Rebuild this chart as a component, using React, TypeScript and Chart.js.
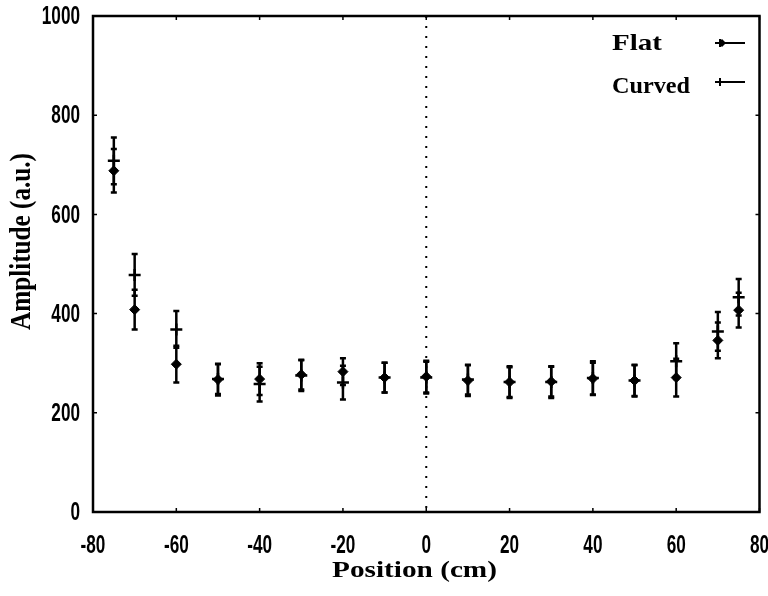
import React, { useEffect, useRef } from "react";
import { Chart, registerables } from "chart.js";

Chart.register(...registerables);

const positions = [-75, -70, -60, -50, -40, -30, -20, -10, 0, 10, 20, 30, 40, 50, 60, 70, 75];
const flatValues = [688, 408, 298, 267, 268, 277, 283, 271, 273, 265, 262, 263, 269, 265, 271, 346, 407];
const flatErrors = [44, 40, 37, 32, 32, 30, 27, 30, 32, 31, 30, 30, 32, 32, 38, 36, 35];
const curvedValues = [708, 478, 368, 268, 258, 275, 261, 271, 271, 267, 262, 262, 270, 265, 304, 364, 433];
const curvedErrors = [47, 42, 37, 30, 35, 31, 34, 30, 32, 30, 32, 32, 34, 31, 36, 39, 37];
const xTicks = [-80, -60, -40, -20, 0, 20, 40, 60, 80];
const yTicks = [0, 200, 400, 600, 800, 1000];
const seriesNames = ["Flat", "Curved"];
const xTitle = "Position (cm)";
const yTitle = "Amplitude (a.u.)";

const TICK_FONT = "'Liberation Sans', Arial, sans-serif";
const SERIF = "'Liberation Serif', 'Times New Roman', serif";

function fitText(ctx: any, text: string, x: number, y: number, width: number) {
  const w = ctx.measureText(text).width;
  ctx.save();
  ctx.translate(x, y);
  ctx.scale(width / w, 1);
  ctx.fillText(text, 0, 0);
  ctx.restore();
}

const errorBarPlugin = {
  id: "errorBars",
  afterDatasetsDraw(chart: any) {
    const ctx = chart.ctx;
    const xs = chart.scales.x;
    const ys = chart.scales.y;
    const errs = [flatErrors, curvedErrors];
    const vals = [flatValues, curvedValues];
    ctx.save();
    ctx.strokeStyle = "#000";
    ctx.lineWidth = 2.5;
    for (let d = 0; d < 2; d++) {
      for (let i = 0; i < positions.length; i++) {
        const px = xs.getPixelForValue(positions[i]);
        const top = ys.getPixelForValue(vals[d][i] + errs[d][i]);
        const bot = ys.getPixelForValue(vals[d][i] - errs[d][i]);
        ctx.beginPath();
        ctx.moveTo(px, top);
        ctx.lineTo(px, bot);
        ctx.moveTo(px - 3, top);
        ctx.lineTo(px + 3, top);
        ctx.moveTo(px - 3, bot);
        ctx.lineTo(px + 3, bot);
        ctx.stroke();
      }
    }
    ctx.restore();
  },
};

const framePlugin = {
  id: "frame",
  beforeDatasetsDraw(chart: any) {
    const ctx = chart.ctx;
    const { left, right, top, bottom } = chart.chartArea;
    const xs = chart.scales.x;
    const ys = chart.scales.y;
    ctx.save();
    ctx.strokeStyle = "#000";
    ctx.lineWidth = 2;
    ctx.setLineDash([2, 8]);
    const x0 = xs.getPixelForValue(0);
    ctx.beginPath();
    ctx.moveTo(x0, top);
    ctx.lineTo(x0, bottom);
    ctx.stroke();
    ctx.setLineDash([]);
    ctx.lineWidth = 2.5;
    ctx.strokeRect(left, top, right - left, bottom - top);
    ctx.lineWidth = 1.5;
    ctx.beginPath();
    for (const v of xTicks) {
      const p = xs.getPixelForValue(v);
      ctx.moveTo(p, bottom);
      ctx.lineTo(p, bottom - 4);
      ctx.moveTo(p, top);
      ctx.lineTo(p, top + 4);
    }
    for (const v of yTicks) {
      const p = ys.getPixelForValue(v);
      ctx.moveTo(left, p);
      ctx.lineTo(left + 4, p);
      ctx.moveTo(right, p);
      ctx.lineTo(right - 4, p);
    }
    ctx.stroke();
    ctx.restore();
  },
  afterDraw(chart: any) {
    const ctx = chart.ctx;
    const { left, bottom } = chart.chartArea;
    const xs = chart.scales.x;
    const ys = chart.scales.y;
    ctx.save();
    ctx.fillStyle = "#000";
    ctx.strokeStyle = "#000";

    // tick labels (narrow)
    ctx.font = "bold 26px " + TICK_FONT;
    ctx.textBaseline = "middle";
    for (const v of yTicks) {
      const s = String(v);
      const sw = ctx.measureText(s).width * 0.66;
      fitText(ctx, s, left - 13 - sw, ys.getPixelForValue(v) + 1, sw);
    }
    for (const v of xTicks) {
      const s = String(v);
      const sw = ctx.measureText(s).width * 0.66;
      fitText(ctx, s, xs.getPixelForValue(v) - sw / 2, bottom + 34, sw);
    }

    // axis titles
    ctx.font = "bold 23px " + SERIF;
    ctx.textBaseline = "alphabetic";
    fitText(ctx, xTitle, 332, 577, 165);

    ctx.save();
    ctx.translate(30, 330);
    ctx.rotate(-Math.PI / 2);
    ctx.font = "bold 25px " + SERIF;
    const yw = ctx.measureText(yTitle).width;
    ctx.scale(177 / yw, 1.2);
    ctx.fillText(yTitle, 0, 0);
    ctx.restore();

    // legend
    ctx.font = "bold 23px " + SERIF;
    ctx.textBaseline = "alphabetic";
    const baselines = [50, 93];
    const widths = [50, 78];
    const symY = [43, 82];
    for (let k = 0; k < 2; k++) {
      fitText(ctx, seriesNames[k], 612, baselines[k], widths[k]);
      const y = symY[k];
      ctx.lineWidth = 2;
      ctx.beginPath();
      ctx.moveTo(715, y);
      ctx.lineTo(745, y);
      ctx.moveTo(720, y - 4);
      ctx.lineTo(720, y + 4);
      ctx.stroke();
      if (k === 0) {
        ctx.beginPath();
        ctx.moveTo(722, y - 4);
        ctx.lineTo(726, y);
        ctx.lineTo(722, y + 4);
        ctx.lineTo(718, y);
        ctx.closePath();
        ctx.fill();
      }
    }
    ctx.restore();
  },
};

export default function App() {
  const ref = useRef<HTMLCanvasElement>(null);
  useEffect(() => {
    document.body.style.margin = "0";
    const canvas = ref.current!;
    const chart = new Chart(canvas, {
      type: "scatter",
      data: {
        datasets: [
          {
            label: seriesNames[0],
            data: positions.map((x, i) => ({ x, y: flatValues[i] })),
            pointStyle: "rectRot",
            pointRadius: 5,
            backgroundColor: "#000",
            borderColor: "#000",
            borderWidth: 1,
            showLine: false,
          },
          {
            label: seriesNames[1],
            data: positions.map((x, i) => ({ x, y: curvedValues[i] })),
            pointStyle: "cross",
            pointRadius: 6,
            backgroundColor: "#000",
            borderColor: "#000",
            borderWidth: 2.5,
            showLine: false,
          },
        ],
      },
      options: {
        animation: false,
        responsive: false,
        devicePixelRatio: 1,
        layout: { padding: { top: 16, right: 8, left: 0, bottom: 0 } },
        plugins: { legend: { display: false }, tooltip: { enabled: false } },
        scales: {
          x: {
            type: "linear",
            min: -80,
            max: 80,
            grid: { display: false, drawTicks: false },
            border: { display: false },
            ticks: { display: false },
            afterFit: (s: any) => {
              s.height = 84;
            },
          },
          y: {
            type: "linear",
            min: 0,
            max: 1000,
            grid: { display: false, drawTicks: false },
            border: { display: false },
            ticks: { display: false },
            afterFit: (s: any) => {
              s.width = 93;
            },
          },
        },
      },
      plugins: [framePlugin, errorBarPlugin],
    } as any);
    return () => chart.destroy();
  }, []);
  return <canvas ref={ref} width={768} height={596} style={{ display: "block" }} />;
}
